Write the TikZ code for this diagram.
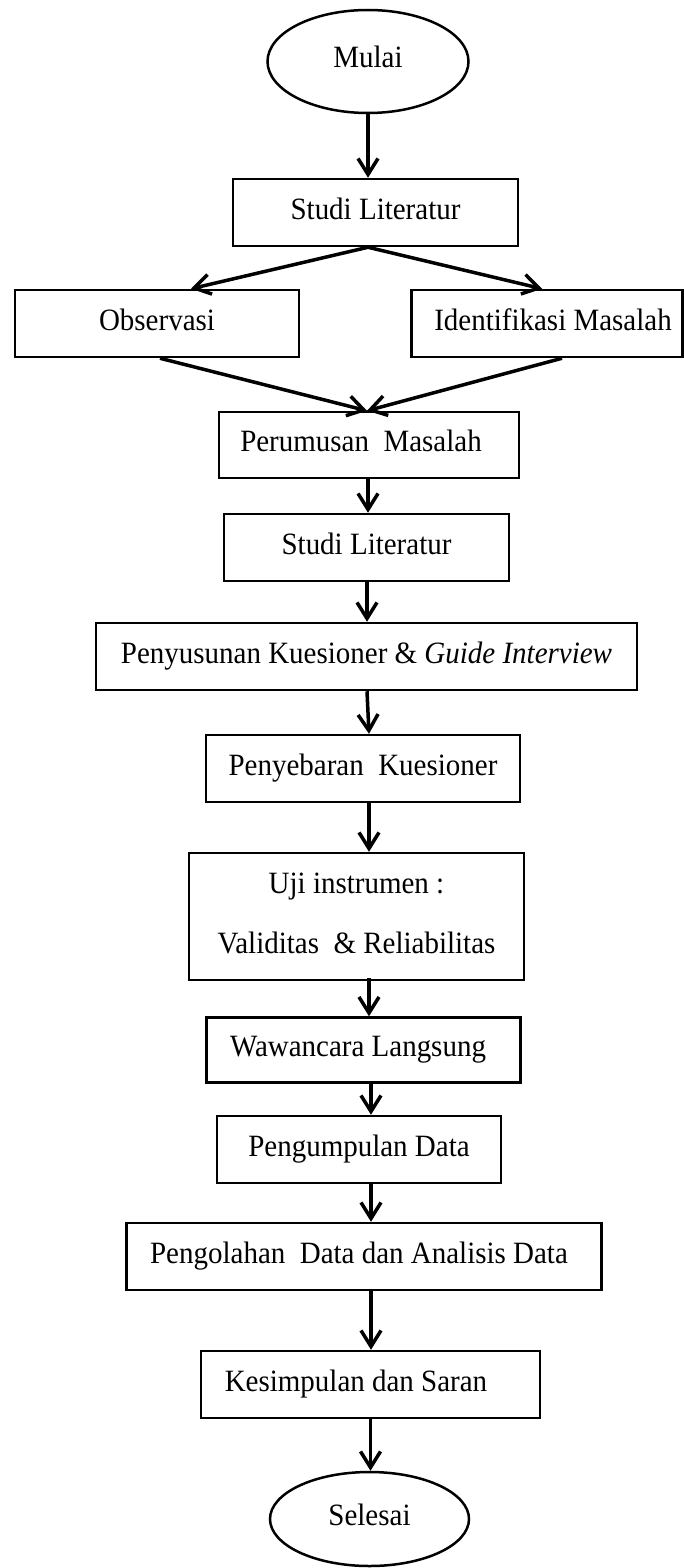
\documentclass[tikz,border=0pt]{standalone}
\usepackage{fontspec}
\setmainfont{Liberation Serif}
\usetikzlibrary{arrows.meta,shapes.geometric}
\newcommand{\sqz}[1]{\scalebox{0.935}[1]{#1}}
\begin{document}
\begin{tikzpicture}[x=1pt,y=-1pt,
  base/.style={draw, line width=2.5pt, inner sep=0pt, font=\fontsize{31}{37}\selectfont},
  box/.style={base, rectangle, text height=21pt, text depth=8pt},
  oval/.style={base, ellipse, text height=21pt, text depth=8pt},
  arr/.style={line width=3.5pt, -{Straight Barb[length=16pt,width=20pt]}}]
\fill[white] (0,0) rectangle (684,1568);
\useasboundingbox (0,0) rectangle (684,1568);

\node[oval, minimum width=201pt, minimum height=103pt] (mulai) at (368,61.5) {\sqz{Mulai}};
\node[box, minimum width=285pt, minimum height=67pt] (studiA) at (375.5,212.5) {\sqz{Studi Literatur}};
\node[box, minimum width=284pt, minimum height=67pt] (obs) at (157,323.5) {\sqz{Observasi}};
\node[box, minimum width=271pt, minimum height=67pt] (ident) at (547,323.5) {\hspace*{12pt}\sqz{Identifikasi Masalah}};
\node[box, minimum width=300pt, minimum height=66pt] (rumus) at (369,445) {\sqz{Perumusan\ \ Masalah}\hspace*{16pt}};
\node[box, minimum width=285pt, minimum height=67pt] (studiB) at (366.5,547.5) {\sqz{Studi Literatur}};
\node[box, minimum width=541pt, minimum height=67pt] (susun) at (366.5,656.5) {\sqz{Penyusunan Kuesioner \& \textit{Guide Interview}}};
\node[box, minimum width=314pt, minimum height=67pt] (sebar) at (363,768.5) {\sqz{Penyebaran\ \ Kuesioner}};
\node[base, rectangle, minimum width=335pt, minimum height=127pt] (uji) at (356.5,916.5)
  {\sqz{\begin{tabular}{@{}c@{}}Uji instrumen :\\[23pt]Validitas\ \ \& Reliabilitas\end{tabular}}};
\node[box, minimum width=314pt, minimum height=65pt] (wawan) at (363.5,1050) {\sqz{Wawancara Langsung}\hspace*{11pt}};
\node[box, minimum width=284pt, minimum height=67pt] (kumpul) at (359,1149.5) {\sqz{Pengumpulan Data}};
\node[box, minimum width=475pt, minimum height=67pt] (olah) at (364,1256.5) {\sqz{Pengolahan\ \ Data dan Analisis Data}\hspace*{10pt}};
\node[box, minimum width=339pt, minimum height=67pt] (simpul) at (370.5,1384.5) {\sqz{Kesimpulan dan Saran}\hspace*{29pt}};
\node[oval, minimum width=199pt, minimum height=94pt] (selesai) at (369.5,1519) {\sqz{Selesai}};

\draw[arr] (mulai.south) -- (mulai.south |- studiA.north);
\coordinate (sA) at ([xshift=-7.5pt]studiA.south);
\draw[arr] (sA) -- ([xshift=34pt]obs.north);
\draw[arr] (sA) -- ([xshift=-5pt]ident.north);
\coordinate (rN) at ([xshift=-2pt]rumus.north);
\draw[arr] ([xshift=3pt]obs.south) -- (rN);
\draw[arr] ([xshift=15pt]ident.south) -- (rN);
\draw[arr] ([xshift=-1pt]rumus.south) -- ([xshift=-1pt]rumus.south |- studiB.north);
\draw[arr] ([xshift=0.5pt]studiB.south) -- ([xshift=0.5pt]studiB.south |- susun.north);
\draw[arr] ([xshift=0.5pt]susun.south) -- ([xshift=2.5pt]susun.south |- sebar.north);
\draw[arr] ([xshift=6pt]sebar.south) -- ([xshift=6pt]sebar.south |- uji.north);
\draw[arr] ([xshift=12.5pt,yshift=3pt]uji.south) -- ([xshift=12.5pt]uji.south |- wawan.north);
\draw[arr] ([xshift=7.5pt]wawan.south) -- ([xshift=7.5pt]wawan.south |- kumpul.north);
\draw[arr] ([xshift=12pt]kumpul.south) -- ([xshift=12pt]kumpul.south |- olah.north);
\draw[arr] ([xshift=7pt]olah.south) -- ([xshift=7pt]olah.south |- simpul.north);
\draw[arr] (simpul.south) -- (simpul.south |- selesai.north);
\end{tikzpicture}
\end{document}
